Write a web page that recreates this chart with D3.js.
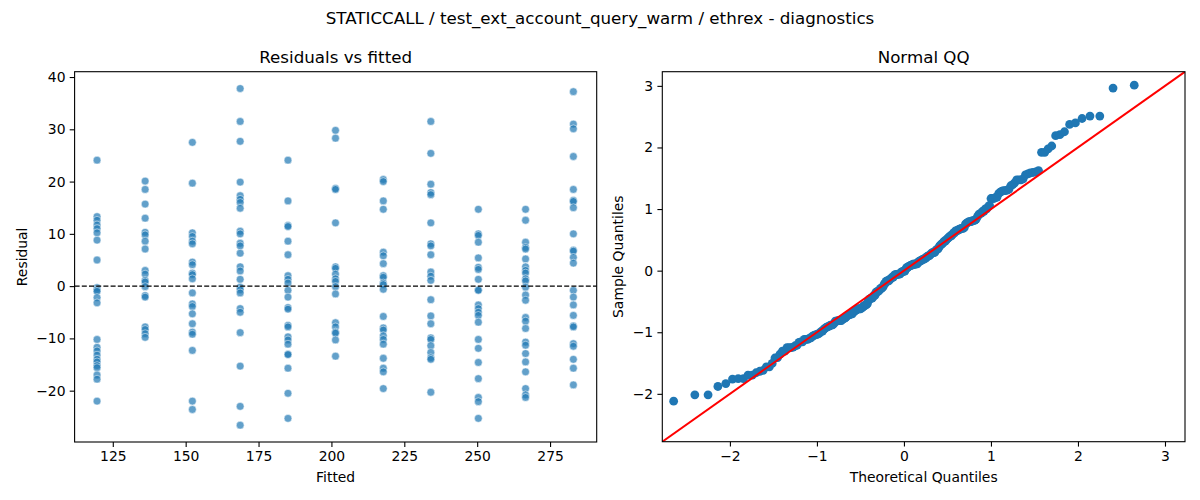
<!DOCTYPE html>
<html>
<head>
<meta charset="utf-8">
<script src="https://cdn.jsdelivr.net/npm/d3@7"></script>
<style>
  body { margin: 0; background: #fff; }
  svg { font-family: "DejaVu Sans", sans-serif; }
</style>
</head>
<body>
<div id="chart"></div>
<script>
// fitted levels (x positions of the residual columns)
const fittedLevels = [119.6, 136.1, 152.3, 168.7, 185.1, 201.4, 217.8, 234.1, 250.4, 266.6, 283.0];

// residuals read per fitted level
const res119 = [24.1, 13.3, 12.6, 11.7, 11.0, 10.2, 8.8, 5.0, -0.3, -0.7, -1.0, -2.2, -3.2, -10.2, -11.7, -12.4, -13.2, -14.0, -14.5, -15.2, -15.6, -17.0, -17.8, -22.0];
const res136 = [20.1, 18.5, 15.7, 13.0, 10.3, 9.8, 8.6, 7.1, 3.0, 2.3, 1.1, 0.8, -0.1, -1.8, -2.1, -7.8, -8.3, -9.1, -9.8];
const res152 = [27.5, 19.7, 10.2, 9.5, 8.6, 8.1, 4.6, 4.1, 2.5, 2.2, 1.4, -1.3, -3.4, -3.9, -5.3, -7.2, -8.8, -9.2, -12.3, -22.0, -23.6];
const res169 = [37.8, 31.5, 27.7, 19.9, 17.3, 16.6, 16.0, 14.9, 10.5, 10.0, 8.2, 7.7, 6.3, 3.7, 2.9, 1.3, -0.2, -0.7, -1.3, -4.3, -5.0, -8.9, -15.3, -23.0, -26.6];
const res185 = [24.1, 16.3, 11.6, 11.4, 8.6, 6.0, 2.0, 1.3, 0.6, -0.8, -2.1, -4.1, -4.4, -7.5, -7.8, -9.7, -10.3, -11.1, -13.0, -13.1, -15.7, -20.5, -25.3];
const res201 = [29.8, 28.3, 18.7, 18.5, 12.1, 3.7, 3.4, 2.3, 1.4, 0.9, -0.1, -1.5, -7.0, -7.8, -8.8, -9.0, -10.3, -13.4];
const res218 = [20.4, 20.0, 16.3, 14.7, 6.5, 5.8, 4.3, 2.0, 1.7, 0.6, 0.3, -0.6, -5.8, -8.0, -8.4, -9.5, -10.2, -11.1, -13.8, -15.7, -16.4, -19.6];
const res234 = [31.5, 25.4, 19.5, 17.9, 17.5, 12.1, 8.1, 7.7, 6.0, 2.7, 1.9, 1.1, -2.6, -5.7, -7.2, -9.9, -10.2, -11.4, -12.7, -13.7, -14.0, -20.3];
const res250 = [14.7, 10.0, 9.7, 8.4, 5.4, 3.6, 3.2, 1.3, -0.7, -0.8, -3.6, -4.3, -5.0, -5.6, -6.9, -10.2, -11.9, -14.6, -17.7, -21.3, -22.1, -25.3];
const res267 = [14.7, 12.6, 8.4, 7.4, 7.1, 5.2, 3.7, 3.0, 2.5, 1.4, 1.0, -0.2, -1.7, -2.7, -6.0, -6.7, -8.1, -10.7, -11.3, -12.9, -14.5, -16.4, -19.6, -20.8, -21.3];
const res283 = [37.2, 31.0, 30.1, 24.8, 18.5, 16.4, 16.2, 15.0, 10.0, 6.9, 6.7, 5.5, 4.4, -0.8, -2.1, -3.6, -5.6, -7.6, -7.8, -11.0, -11.5, -14.0, -15.7, -18.9];
const residualGroups = [res119, res136, res152, res169, res185, res201, res218, res234, res250, res267, res283];

// residual standard error used to standardise the QQ sample
const residScale = 12.55;

// axis limits and tick labels
const fittedLimits = [111.9, 291.0];
const fittedTicks = [125, 150, 175, 200, 225, 250, 275];
const residTicks = [-20, -10, 0, 10, 20, 30, 40];
const qqTicks = [-2, -1, 0, 1, 2, 3];
const qqLimits = [-2.777, 3.23];

const title = "STATICCALL / test_ext_account_query_warm / ethrex - diagnostics";

const points = [];
residualGroups.forEach((g, i) => g.forEach((r) => points.push({ fitted: fittedLevels[i], resid: r })));

// inverse normal cdf (Acklam)
function normPpf(p) {
  const a = [-39.69683028665376, 220.9460984245205, -275.9285104469687, 138.3577518672690, -30.66479806614716, 2.506628277459239];
  const b = [-54.47609879822406, 161.5858368580409, -155.6989798598866, 66.80131188771972, -13.28068155288572];
  const c = [-0.007784894002430293, -0.3223964580411365, -2.400758277161838, -2.549732539343734, 4.374664141464968, 2.938163982698783];
  const d = [0.007784695709041462, 0.3224671290700398, 2.445134137142996, 3.754408661907416];
  const pl = 0.02425;
  let q, r;
  if (p < pl) {
    q = Math.sqrt(-2 * Math.log(p));
    return (((((c[0] * q + c[1]) * q + c[2]) * q + c[3]) * q + c[4]) * q + c[5]) / ((((d[0] * q + d[1]) * q + d[2]) * q + d[3]) * q + 1);
  }
  if (p > 1 - pl) {
    q = Math.sqrt(-2 * Math.log(1 - p));
    return -(((((c[0] * q + c[1]) * q + c[2]) * q + c[3]) * q + c[4]) * q + c[5]) / ((((d[0] * q + d[1]) * q + d[2]) * q + d[3]) * q + 1);
  }
  q = p - 0.5;
  r = q * q;
  return (((((a[0] * r + a[1]) * r + a[2]) * r + a[3]) * r + a[4]) * r + a[5]) * q / (((((b[0] * r + b[1]) * r + b[2]) * r + b[3]) * r + b[4]) * r + 1);
}

// QQ: standardised residuals vs normal quantiles, plotting positions i/(n+1)
const n = points.length;
const qq = points
  .map((d) => d.resid / residScale)
  .sort(d3.ascending)
  .map((s, i) => ({ theo: normPpf((i + 1) / (n + 1)), sample: s }));

const width = 1200, height = 500;
const svg = d3.select("#chart").append("svg").attr("width", width).attr("height", height);

svg.append("text")
  .attr("x", 600).attr("y", 24)
  .attr("text-anchor", "middle")
  .style("font-size", "16.7px")
  .text(title);

function withMargin(ext) {
  const m = (ext[1] - ext[0]) * 0.05;
  return [ext[0] - m, ext[1] + m];
}

const fmt = d3.format("d");

function drawFrame(g, box, xs, ys, xt, yt, xl, yl, ttl, ylx) {
  g.append("g")
    .attr("transform", `translate(0,${box.y1})`)
    .call(d3.axisBottom(xs).tickValues(xt).tickFormat(fmt).tickSize(4.9).tickPadding(4.2).tickSizeOuter(0))
    .call((a) => a.select(".domain").remove())
    .call((a) => a.selectAll("text").style("font-size", "13.9px").attr("fill", "#000").attr("font-family", "DejaVu Sans"))
    .call((a) => a.selectAll("line").attr("stroke-width", 1.1));
  g.append("g")
    .attr("transform", `translate(${box.x0},0)`)
    .call(d3.axisLeft(ys).tickValues(yt).tickFormat(fmt).tickSize(4.9).tickPadding(4.2).tickSizeOuter(0))
    .call((a) => a.select(".domain").remove())
    .call((a) => a.selectAll("text").style("font-size", "13.9px").attr("fill", "#000").attr("font-family", "DejaVu Sans"))
    .call((a) => a.selectAll("line").attr("stroke-width", 1.1));
  g.append("rect")
    .attr("x", box.x0).attr("y", box.y0)
    .attr("width", box.x1 - box.x0).attr("height", box.y1 - box.y0)
    .attr("fill", "none").attr("stroke", "#000").attr("stroke-width", 1.1);
  g.append("text")
    .attr("x", (box.x0 + box.x1) / 2).attr("y", box.y0 - 9)
    .attr("text-anchor", "middle").style("font-size", "16.7px")
    .text(ttl);
  g.append("text")
    .attr("x", (box.x0 + box.x1) / 2).attr("y", box.y1 + 40)
    .attr("text-anchor", "middle").style("font-size", "13.9px")
    .text(xl);
  g.append("text")
    .attr("transform", `translate(${ylx},${(box.y0 + box.y1) / 2}) rotate(-90)`)
    .attr("text-anchor", "middle").style("font-size", "13.9px")
    .text(yl);
}

// left: residuals vs fitted
const lb = { x0: 74.6, x1: 596.7, y0: 71.7, y1: 442 };
const x1 = d3.scaleLinear().domain(fittedLimits).range([lb.x0, lb.x1]);
const y1 = d3.scaleLinear().domain(withMargin(d3.extent(points, (d) => d.resid))).range([lb.y1, lb.y0]);
const gl = svg.append("g");

gl.append("g")
  .selectAll("circle")
  .data(points)
  .join("circle")
  .attr("cx", (d) => x1(d.fitted))
  .attr("cy", (d) => y1(d.resid))
  .attr("r", 3.9)
  .attr("fill", "#1f77b4")
  .attr("fill-opacity", 0.7)
  .attr("stroke", "#fff")
  .attr("stroke-opacity", 0.7)
  .attr("stroke-width", 0.7);

gl.append("line")
  .attr("x1", lb.x0).attr("x2", lb.x1)
  .attr("y1", y1(0)).attr("y2", y1(0))
  .attr("stroke", "#000").attr("stroke-width", 1.3)
  .attr("stroke-dasharray", "5,2.2");

drawFrame(gl, lb, x1, y1, fittedTicks, residTicks, "Fitted", "Residual", "Residuals vs fitted", 27);

// right: normal QQ
const rb = { x0: 662.3, x1: 1185, y0: 71.7, y1: 441.7 };
const x2 = d3.scaleLinear().domain(qqLimits).range([rb.x0, rb.x1]);
const y2 = d3.scaleLinear().domain(qqLimits).range([rb.y1, rb.y0]);
const gr = svg.append("g");

gr.append("defs").append("clipPath").attr("id", "qqclip")
  .append("rect").attr("x", rb.x0).attr("y", rb.y0)
  .attr("width", rb.x1 - rb.x0).attr("height", rb.y1 - rb.y0);

gr.append("g")
  .selectAll("circle")
  .data(qq)
  .join("circle")
  .attr("cx", (d) => x2(d.theo))
  .attr("cy", (d) => y2(d.sample))
  .attr("r", 4.4)
  .attr("fill", "#1f77b4");

gr.append("line")
  .attr("clip-path", "url(#qqclip)")
  .attr("x1", x2(qqLimits[0])).attr("y1", y2(qqLimits[0]))
  .attr("x2", x2(qqLimits[1])).attr("y2", y2(qqLimits[1]))
  .attr("stroke", "red").attr("stroke-width", 2);

drawFrame(gr, rb, x2, y2, qqTicks, qqTicks, "Theoretical Quantiles", "Sample Quantiles", "Normal QQ", 623);
</script>
</body>
</html>
